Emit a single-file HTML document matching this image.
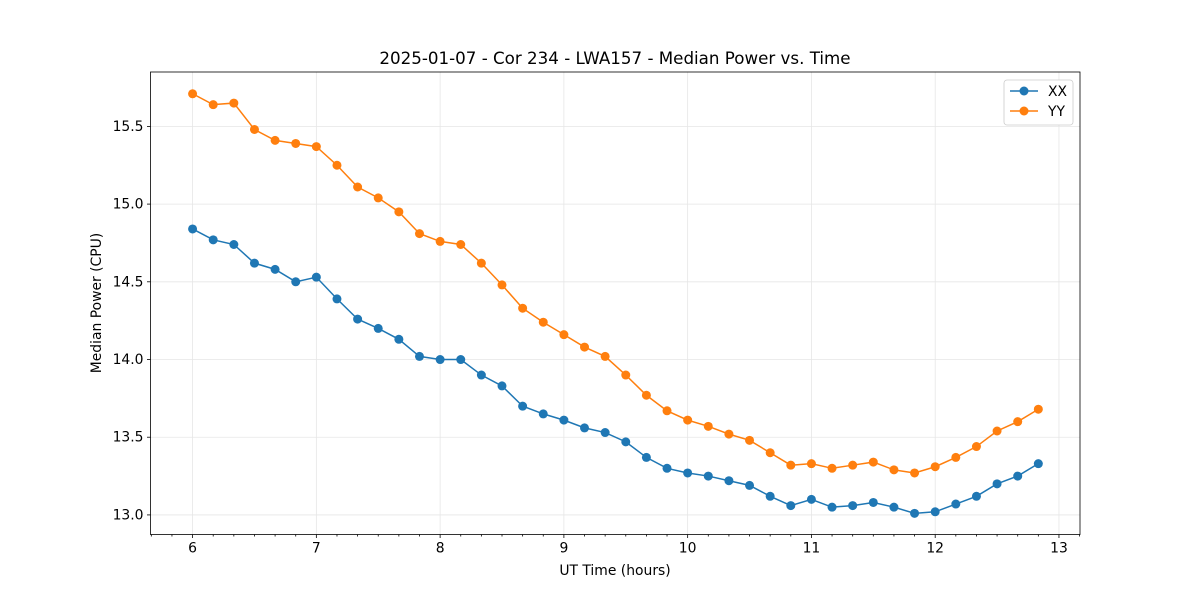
<!DOCTYPE html>
<html><head><meta charset="utf-8"><style>body{margin:0;background:#fff}svg{display:block;font-family:"DejaVu Sans","Liberation Sans",sans-serif}</style></head>
<body>
<svg id="c" width="1200" height="600"></svg>
<script>
const xTicks=[6,7,8,9,10,11,12,13];
const yTicks=[13.0,13.5,14.0,14.5,15.0,15.5];
const xx=[14.84,14.77,14.74,14.62,14.58,14.50,14.53,14.39,14.26,14.20,14.13,14.02,14.00,14.00,13.90,13.83,13.70,13.65,13.61,13.56,13.53,13.47,13.37,13.30,13.27,13.25,13.22,13.19,13.12,13.06,13.10,13.05,13.06,13.08,13.05,13.01,13.02,13.07,13.12,13.20,13.25,13.33];
const yy=[15.71,15.64,15.65,15.48,15.41,15.39,15.37,15.25,15.11,15.04,14.95,14.81,14.76,14.74,14.62,14.48,14.33,14.24,14.16,14.08,14.02,13.90,13.77,13.67,13.61,13.57,13.52,13.48,13.40,13.32,13.33,13.30,13.32,13.34,13.29,13.27,13.31,13.37,13.44,13.54,13.60,13.68];
const times=xx.map((_,i)=>6+i/6);
const L=150.5,R=1080,T=72,B=534.5;
const x0=5.66,x1=13.17,y0=12.874,y1=15.85;
const X=v=>L+(v-x0)/(x1-x0)*(R-L);
const Y=v=>B-(v-y0)/(y1-y0)*(B-T);
const s=document.getElementById('c');const NS='http://www.w3.org/2000/svg';
function el(t,a,p){const e=document.createElementNS(NS,t);for(const k in a)e.setAttribute(k,a[k]);(p||s).appendChild(e);return e;}
const grid=el('g',{});


xTicks.forEach(t=>{el('line',{x1:X(t),x2:X(t),y1:T,y2:B,stroke:'#e6e6e6','stroke-width':0.8},grid);});
yTicks.forEach(t=>{el('line',{x1:L,x2:R,y1:Y(t),y2:Y(t),stroke:'#e6e6e6','stroke-width':0.8},grid);});
const ax=el('g',{});


for(let m=Math.ceil(x0*6);m/6<=x1;m++){const v=m/6;const maj=Math.abs(v-Math.round(v))<1e-6;el('line',{x1:X(v),x2:X(v),y1:B,y2:B+(maj?3.5:2),stroke:'#000','stroke-width':0.8},ax);}
xTicks.forEach(t=>{const tx=el('text',{x:X(t),y:B+18,'text-anchor':'middle','font-size':13.9},ax);tx.textContent=t;

});
yTicks.forEach(t=>{el('line',{x1:L-3.5,x2:L,y1:Y(t),y2:Y(t),stroke:'#000','stroke-width':0.8},ax);const tx=el('text',{x:L-7,y:Y(t)+4.5,'text-anchor':'end','font-size':13.9},ax);tx.textContent=t.toFixed(1);

});
function series(d,c,name){const g=el('g',{});


el('polyline',{points:d.map((v,i)=>X(times[i])+','+Y(v)).join(' '),fill:'none',stroke:c,'stroke-width':1.5},g);
d.forEach((v,i)=>el('circle',{cx:X(times[i]),cy:Y(v),r:4.5,fill:c},g));}
series(xx,'#1f77b4','series-xx');series(yy,'#ff7f0e','series-yy');
el('rect',{x:L,y:T,width:R-L,height:B-T,fill:'none',stroke:'#000','stroke-width':0.8});
function txt(str,a,name){const t=el('text',a);t.textContent=str;

}
txt('2025-01-07 - Cor 234 - LWA157 - Median Power vs. Time',{x:615,y:64,'text-anchor':'middle','font-size':16.7},'chart-title');
txt('UT Time (hours)',{x:615,y:575,'text-anchor':'middle','font-size':13.9},'x-axis-title');
txt('Median Power (CPU)',{x:101,y:303,'text-anchor':'middle','font-size':13.9,transform:'rotate(-90 101 303)'},'y-axis-title');
const lg=el('g',{});


el('rect',{x:1004,y:80,width:69,height:45,rx:3,fill:'#fff',stroke:'#ccc','stroke-width':0.8},lg);
[['XX','#1f77b4',91],['YY','#ff7f0e',111]].forEach(([n,c,y])=>{el('line',{x1:1010,x2:1038,y1:y,y2:y,stroke:c,'stroke-width':1.5},lg);el('circle',{cx:1024,cy:y,r:4.5,fill:c},lg);const t=el('text',{x:1048,y:y+5,'font-size':13.9},lg);t.textContent=n;

});
</script>
</body></html>
